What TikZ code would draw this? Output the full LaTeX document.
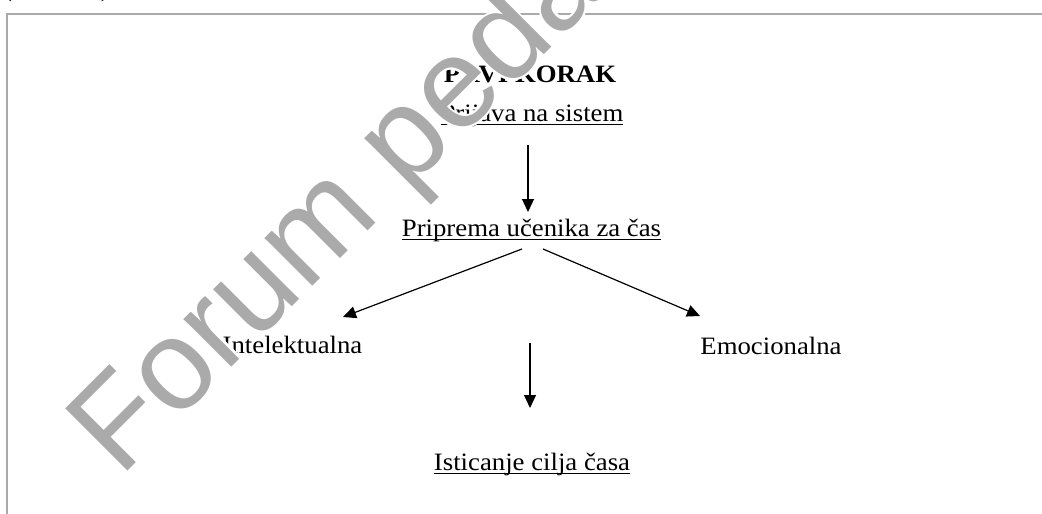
\documentclass[tikz,border=0pt]{standalone}
\usepackage{fontspec}
\setmainfont{Liberation Serif}
\newfontfamily\wmfont{Liberation Sans}
\usetikzlibrary{arrows.meta}
\definecolor{framegray}{RGB}{170,170,170}
\definecolor{wmgray}{RGB}{170,170,170}
\newcommand\wordul[1]{\setbox0\hbox{#1}\rlap{\rule[-4.3pt]{\wd0}{1.2pt}}\box0}
\newcommand\wmtext{Forum peda}
\tikzset{
  lbl/.style={inner sep=0pt, anchor=base, xscale=1.07, transform shape,
              font=\fontsize{25}{29}\selectfont},
  arr/.style={line width=1.2pt, -{Triangle[length=13pt,width=12pt]}},
  wm/.style={inner sep=0pt, anchor=base west, rotate=45, transform shape,
             font=\wmfont\fontsize{128}{132}\selectfont},
}
\begin{document}
\begin{tikzpicture}[x=1pt,y=1pt]
\useasboundingbox (0,0) rectangle (1042,-514);
% frame
\draw[framegray, line width=2pt] (6.5,-514) -- (6.5,-13.5) -- (1042,-13.5);
% cut-off caption
\node[lbl, anchor=base west] (cap) at (3,3) {(\hspace{83pt})};
% texts
\node[lbl, font=\fontsize{25}{29}\selectfont\bfseries] (prvi) at (530,-82) {PRVI KORAK};
\node[lbl] (prijava) at (532,-121) {\wordul{Prijava na sistem}};
\node[lbl] (priprema) at (531.5,-236) {\wordul{Priprema učenika za čas}};
\node[lbl] (intel) at (292.5,-353) {Intelektualna};
\node[lbl] (emoc) at (771,-354) {Emocionalna};
\node[lbl] (istic) at (532,-470) {\wordul{Isticanje cilja časa}};
% connectors
\draw[arr] ([shift={(-4,-24)}]prijava.base) -- ([shift={(-3.5,24)}]priprema.base);
\draw[arr] ([shift={(-9.5,-13)}]priprema.base) -- ([shift={(50.5,36)}]intel.base);
\draw[arr] ([shift={(11.5,-13)}]priprema.base) -- ([shift={(-71,38)}]emoc.base);
\draw[arr] ([shift={(-1.5,-107)}]priprema.base) -- ([shift={(-2,62)}]istic.base);
% watermark
\foreach \dx/\dy in {2/0,-2/0,0/2,0/-2,1.4/1.4,-1.4/1.4,1.4/-1.4,-1.4/-1.4}{
  \node[wm, text=white] at (120+\dx,-479+\dy) {\wmtext};
}
\node[wm, text=wmgray] (wmark) at (120,-479) {\wmtext};
\end{tikzpicture}
\end{document}
